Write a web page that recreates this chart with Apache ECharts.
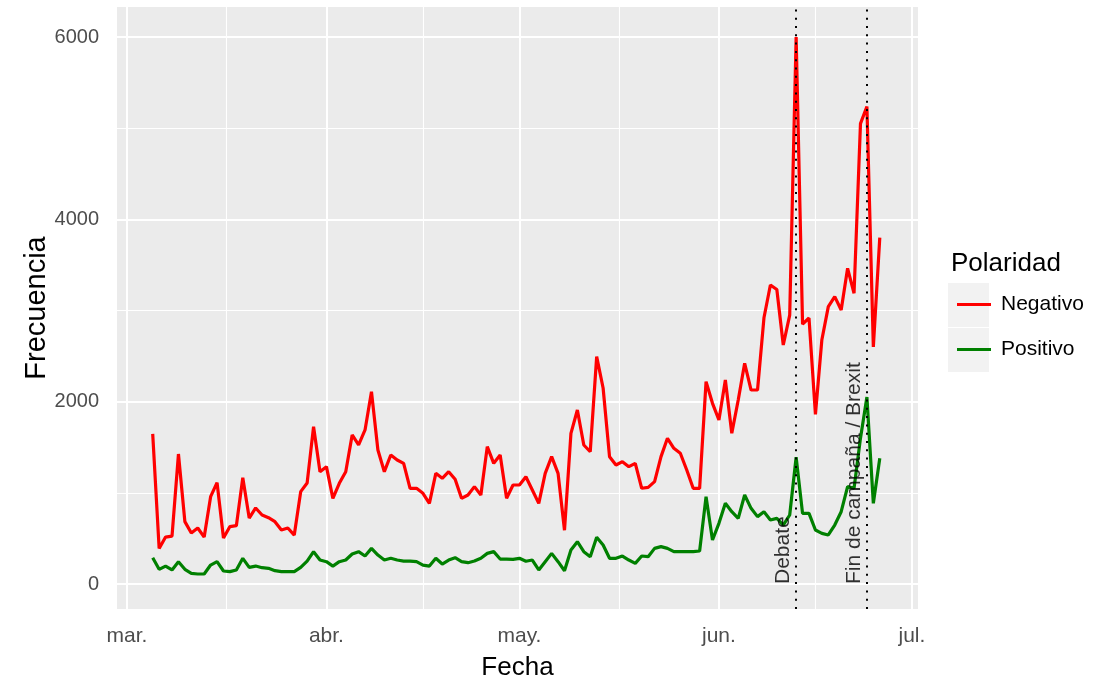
<!DOCTYPE html>
<html><head><meta charset="utf-8">
<script src="https://cdn.jsdelivr.net/npm/echarts@6/dist/echarts.min.js"></script>
<style>html,body{margin:0;padding:0;background:#fff}#c{width:1096px;height:681px}</style>
</head><body><div id="c"></div>
<script>
const YEAR = 2016;
const dates = [
"03-05","03-06","03-07","03-08","03-09","03-10","03-11","03-12","03-13","03-14","03-15","03-16","03-17","03-18","03-19","03-20","03-21","03-22","03-23","03-24","03-25","03-26","03-27","03-28","03-29","03-30","03-31",
"04-01","04-02","04-03","04-04","04-05","04-06","04-07","04-08","04-09","04-10","04-11","04-12","04-13","04-14","04-15","04-16","04-17","04-18","04-19","04-20","04-21","04-22","04-23","04-24","04-25","04-26","04-27","04-28","04-29","04-30",
"05-01","05-02","05-03","05-04","05-05","05-06","05-07","05-08","05-09","05-10","05-11","05-12","05-13","05-14","05-15","05-16","05-17","05-18","05-19","05-20","05-21","05-22","05-23","05-24","05-25","05-26","05-27","05-28","05-29","05-30","05-31",
"06-01","06-02","06-03","06-04","06-05","06-06","06-07","06-08","06-09","06-10","06-11","06-12","06-13","06-14","06-15","06-16","06-17","06-18","06-19","06-20","06-21","06-22","06-23","06-24","06-25","06-26"
];
const negativo = [
1646,390,515,525,1426,684,560,614,515,958,1112,505,630,640,1166,724,834,757,728,684,592,614,537,1013,1108,1726,1232,
1287,940,1105,1232,1635,1525,1690,2110,1470,1232,1415,1360,1324,1050,1050,995,885,1214,1160,1232,1150,940,976,1068,976,1507,1324,1415,940,1086,
1086,1177,1031,885,1214,1397,1214,590,1653,1909,1525,1451,2494,2150,1397,1305,1342,1287,1324,1050,1060,1123,1397,1598,1489,1434,1251,1050,1050,2220,1982,
1800,2238,1653,2019,2421,2128,2128,2920,3280,3230,2622,2950,6000,2850,2918,1860,2680,3042,3152,3006,3463,3189,5050,5237,2600,3800
];
const positivo = [
289,161,197,154,245,161,117,110,110,208,245,143,136,154,282,183,197,179,172,146,136,136,136,183,252,355,263,
245,197,245,263,329,355,307,391,318,263,282,263,252,252,245,208,197,282,219,263,289,245,234,252,282,336,355,274,274,270,
282,250,263,154,245,336,245,146,373,464,355,300,512,428,282,282,307,263,227,307,300,391,410,391,355,355,355,355,362,958,483,
666,885,793,720,976,830,739,793,702,720,647,757,1390,775,775,592,556,538,647,793,1068,1050,1600,2050,885,1380
];
const seriesNames = ["Negativo", "Positivo"];
const seriesColors = ["#FF0000", "#008000"];
const monthTickDates = ["03-01","04-01","05-01","06-01","07-01"];
const monthTickLabels = ["mar.","abr.","may.","jun.","jul."];
const yTicks = [0, 2000, 4000, 6000];
const yMinorTicks = [1000, 3000, 5000];
const eventDates = ["06-13", "06-24"];
const eventLabels = ["Debate", "Fin de campaña / Brexit"];

const FONT = "'Liberation Sans', Arial, sans-serif";
const ORIGIN = Date.UTC(YEAR, 2, 1);
function dayOf(s) {
  const p = s.split("-");
  return (Date.UTC(YEAR, +p[0] - 1, +p[1]) - ORIGIN) / 86400000;
}
const monthTicks = monthTickDates.map(dayOf);
const monthMinor = [];
for (let i = 0; i < monthTicks.length - 1; i++) monthMinor.push((monthTicks[i] + monthTicks[i + 1]) / 2);
const labelOf = {};
monthTicks.forEach((d, i) => labelOf[d] = monthTickLabels[i]);

const gridLines = [];
yMinorTicks.forEach(v => gridLines.push({ yAxis: v, lineStyle: { width: 1.1 } }));
monthMinor.forEach(v => gridLines.push({ xAxis: v, lineStyle: { width: 1.1 } }));
yTicks.forEach(v => gridLines.push({ yAxis: v, lineStyle: { width: 2 } }));
monthTicks.forEach(v => gridLines.push({ xAxis: v, lineStyle: { width: 2 } }));

const chart = echarts.init(document.getElementById('c'), null, { renderer: 'canvas' });
const option = {
  animation: false,
  textStyle: { fontFamily: FONT },
  title: {
    text: 'Polaridad', left: 946, top: 246,
    textStyle: { fontSize: 26, fontWeight: 'normal', color: '#000', fontFamily: FONT }
  },
  legend: {
    data: seriesNames, orient: 'vertical', left: 952, top: 289,
    itemWidth: 34, itemHeight: 3, icon: 'rect', itemGap: 24, selectedMode: false,
    textStyle: { fontSize: 21, color: '#000', fontFamily: FONT, padding: [0, 0, 0, 5] }
  },
  graphic: [
    { type: 'rect', shape: { x: 948, y: 283, width: 41, height: 44 }, style: { fill: '#F2F2F2' }, z: -10 },
    { type: 'rect', shape: { x: 948, y: 328, width: 41, height: 44 }, style: { fill: '#F2F2F2' }, z: -10 }
  ],
  grid: { left: 117, right: 178, top: 7, bottom: 72, show: true, backgroundColor: '#EBEBEB', borderWidth: 0,
    containLabel: false, outerBoundsMode: 'none' },
  xAxis: {
    type: 'value', min: -1.55, max: 122.94,
    name: 'Fecha', nameLocation: 'middle', nameGap: 46, nameMoveOverlap: false,
    nameTextStyle: { fontSize: 26, color: '#000', fontFamily: FONT },
    axisLine: { show: false },
    axisTick: { show: true, length: 6, customValues: monthTicks, lineStyle: { color: '#333', width: 1.5 } },
    axisLabel: { show: true, customValues: monthTicks, margin: 17, fontSize: 21, color: '#4D4D4D', fontFamily: FONT,
      formatter: v => labelOf[v] || '' },
    splitLine: { show: false }
  },
  yAxis: {
    type: 'value', min: -274, max: 6329,
    name: 'Frecuencia', nameLocation: 'middle', nameGap: 66, nameMoveOverlap: false,
    nameTextStyle: { fontSize: 29, color: '#000', fontFamily: FONT },
    axisLine: { show: false },
    axisTick: { show: true, length: 6, customValues: yTicks, lineStyle: { color: '#333', width: 1.5 } },
    axisLabel: { show: true, customValues: yTicks, margin: 18, fontSize: 20, color: '#4D4D4D', fontFamily: FONT,
      formatter: v => String(v) },
    splitLine: { show: false }
  },
  series: [
    {
      name: '__grid', type: 'line', data: [], z: 1, silent: true, legendHoverLink: false,
      markLine: { z: 1, silent: true, symbol: ['none', 'none'], label: { show: false }, animation: false,
        lineStyle: { color: '#FFFFFF', type: 'solid' }, emphasis: { disabled: true }, data: gridLines }
    },
    {
      name: seriesNames[0], type: 'line', z: 3, showSymbol: false, symbol: 'none',
      color: seriesColors[0], lineStyle: { width: 3.2, color: seriesColors[0] },
      data: dates.map((d, i) => [dayOf(d), negativo[i]])
    },
    {
      name: seriesNames[1], type: 'line', z: 4, showSymbol: false, symbol: 'none',
      color: seriesColors[1], lineStyle: { width: 3.2, color: seriesColors[1] },
      data: dates.map((d, i) => [dayOf(d), positivo[i]])
    },
    {
      name: '__events', type: 'scatter', z: 6, symbolSize: 0, silent: true,
      data: eventDates.map((d, i) => ({ name: eventLabels[i], value: [dayOf(d), 0] })),
      label: { show: true, formatter: p => p.name, position: [0, 0], rotate: 90, align: 'left', verticalAlign: 'bottom',
        offset: [0, -2], fontSize: 21, color: '#000', fontFamily: FONT },
      markLine: { z: 6, silent: true, symbol: ['none', 'none'], label: { show: false }, animation: false,
        lineStyle: { color: '#000', type: [2, 6.3], width: 2 }, emphasis: { disabled: true },
        data: eventDates.map(d => ({ xAxis: dayOf(d) })) }
    }
  ]
};
chart.setOption(option);
</script></body></html>
